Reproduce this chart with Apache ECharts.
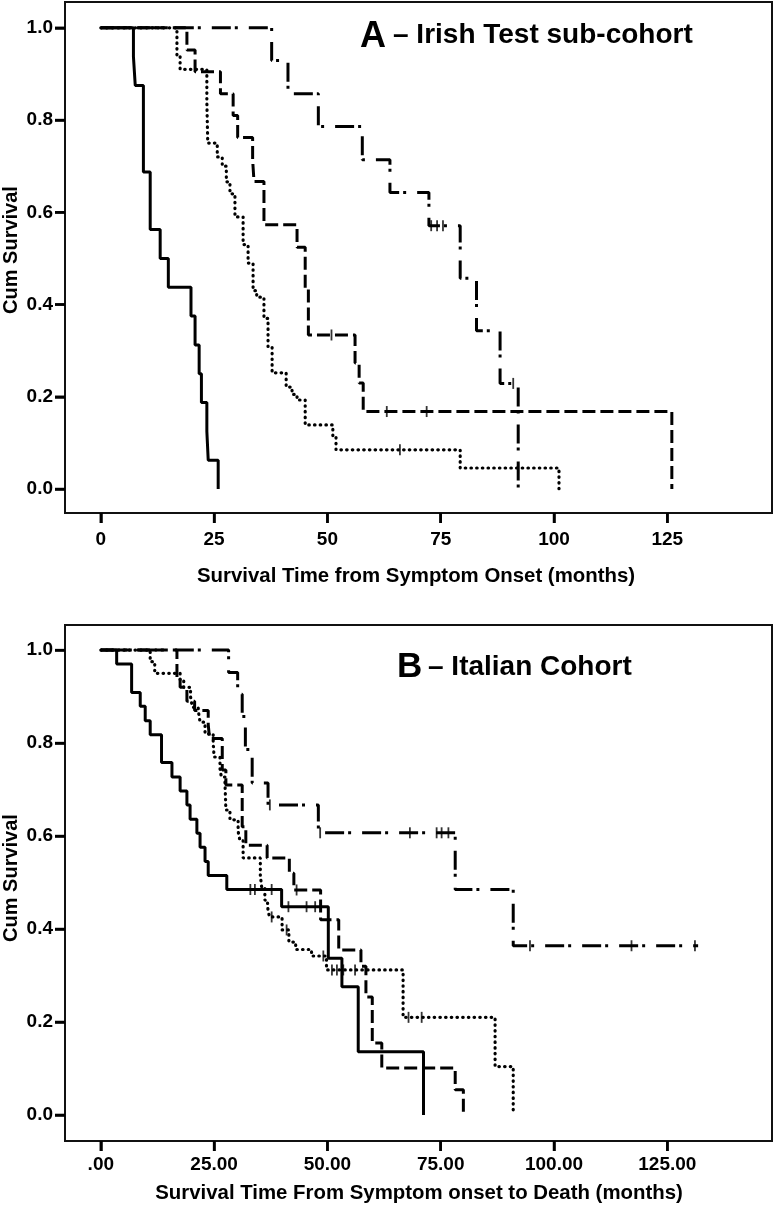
<!DOCTYPE html>
<html><head><meta charset="utf-8">
<script src="https://cdn.jsdelivr.net/npm/echarts@6/dist/echarts.min.js"></script>
<style>html,body{margin:0;padding:0;background:#fff}#c{width:774px;height:1208px}</style>
</head><body><div id="c"></div>
<script>
// ---- tick values / labels ----
const xTickValues = [0, 25, 50, 75, 100, 125];
const xTickLabelsA = ['0', '25', '50', '75', '100', '125'];
const xTickLabelsB = ['.00', '25.00', '50.00', '75.00', '100.00', '125.00'];
const yTickValues = [0, 0.2, 0.4, 0.6, 0.8, 1.0];
const yTickLabels = ['0.0', '0.2', '0.4', '0.6', '0.8', '1.0'];

// ---- Panel A: Irish Test sub-cohort  [time (months), cum survival] ----
const A_solid = [[0,1],[7.2,0.9375],[7.6,0.875],[9.4,0.6875],[10.9,0.5625],[13.1,0.5],[14.9,0.4375],[19.9,0.375],[20.8,0.3125],[21.7,0.25],[22.2,0.1875],[23.4,0.125],[23.7,0.0625],[25.9,0]];
const A_solid_cens = [];
const A_dotted = [[0,1],[16.8,0.94],[17.5,0.91],[23.4,0.84],[23.6,0.75],[25.7,0.72],[26.8,0.70],[27.7,0.666],[28.5,0.64],[29.6,0.59],[31.4,0.53],[32.5,0.49],[33.6,0.43],[34.4,0.416],[36,0.37],[36.9,0.308],[37.8,0.252],[40.9,0.221],[42.2,0.205],[43.3,0.193],[45.1,0.139],[51.2,0.113],[51.9,0.085],[79.3,0.0456],[101.1,0]];
const A_dotted_cens = [[66,0.085],[92.1,0.0456]];
const A_dashed = [[0,1],[19,0.952],[20.8,0.905],[26.4,0.857],[29.2,0.81],[30.2,0.762],[33.5,0.714],[33.8,0.667],[36,0.573],[43.3,0.524],[45.1,0.436],[45.8,0.334],[56.1,0.273],[57,0.23],[57.9,0.168],[126,0]];
const A_dashed_cens = [[50.9,0.334],[63.1,0.168],[71.9,0.168]];
const A_dashdot = [[0,1],[37.7,0.929],[41.3,0.857],[48,0.786],[57.7,0.714],[63.8,0.643],[72.4,0.571],[79.3,0.457],[82.9,0.343],[88.1,0.229],[92.1,0]];
const A_dashdot_cens = [[72.9,0.571],[74.2,0.571],[75.5,0.571],[91,0.229]];

// ---- Panel B: Italian Cohort ----
const B_solid = [[0,1],[3.5,0.97],[6.8,0.909],[8.7,0.879],[9.8,0.848],[10.9,0.818],[13.4,0.758],[15.7,0.727],[17.5,0.697],[19,0.667],[19.7,0.636],[21.2,0.606],[21.9,0.576],[23,0.545],[23.7,0.515],[27.8,0.485],[39.9,0.448],[50.2,0.337],[53.2,0.276],[56.8,0.136],[71.2,0]];
const B_solid_cens = [[33,0.485],[34,0.485],[37.7,0.485],[41.4,0.448],[45.4,0.448],[47.3,0.448]];
const B_dotted = [[0,1],[10.9,0.975],[11.9,0.95],[17.5,0.935],[18.3,0.92],[19.8,0.9],[20.2,0.877],[21.5,0.87],[21.9,0.845],[23,0.82],[24.8,0.8],[25,0.77],[26.3,0.745],[26.6,0.727],[27.4,0.714],[27.6,0.656],[28.5,0.635],[30.3,0.61],[30.7,0.59],[31.4,0.553],[35.2,0.515],[35.5,0.49],[36.2,0.462],[36.8,0.447],[37.2,0.426],[40,0.398],[41.5,0.372],[43,0.356],[46.5,0.342],[49.8,0.312],[66.7,0.21],[87,0.104],[91,0]];
const B_dotted_cens = [[37.7,0.426],[41,0.398],[49.1,0.342],[51,0.312],[52.1,0.312],[53.5,0.312],[56.1,0.312],[67.9,0.21],[70.8,0.21]];
const B_dashed = [[0,1],[16.8,0.94],[17.5,0.92],[19,0.89],[20.7,0.87],[23.7,0.84],[24,0.81],[26.8,0.742],[27.6,0.71],[31.2,0.62],[32,0.58],[36.7,0.553],[41.6,0.52],[42.6,0.484],[48.5,0.42],[52.5,0.355],[57.4,0.32],[58.5,0.254],[59.9,0.155],[62,0.101],[78.2,0.054],[80,0]];
const B_dashed_cens = [[43.2,0.484]];
const B_dashdot = [[0,1],[28.2,0.952],[30.2,0.905],[31.2,0.857],[31.9,0.786],[33.4,0.714],[36.9,0.667],[48,0.607],[78.2,0.485],[91,0.364],[131.8,0.364]];
const B_dashdot_cens = [[37.3,0.667],[48.4,0.607],[68.2,0.607],[74.1,0.607],[75.2,0.607],[76.7,0.607],[94.7,0.364],[117.1,0.364],[131.1,0.364]];

// ---- axis ranges ----
const X_MIN = -7.9, X_MAX = 148.1;
const Y_RANGE_A = [-0.052, 1.056];
const Y_RANGE_B = [-0.056, 1.054];

// ---- styles ----
const TICK_FONT = "'Liberation Sans Narrow', 'Arial Narrow', sans-serif";
const MAIN_FONT = "'Liberation Sans', Arial, sans-serif";
const styles = {
  solid:   {width: 3, type: 'solid', cap: 'butt'},
  dotted:  {width: 3.2, type: [0.5, 5.2], cap: 'round'},
  dashed:  {width: 3, type: [13, 5], cap: 'butt'},
  dashdot: {width: 3, type: [19, 4, 3, 11], cap: 'butt'}
};

function stepSeries(data, idx, st) {
  return {type: 'line', xAxisIndex: idx, yAxisIndex: idx, data: data, step: 'end',
    showSymbol: false, symbol: 'none', silent: true, animation: false,
    lineStyle: {color: '#000', width: st.width, type: st.type, cap: st.cap}};
}
function censSeries(data, idx) {
  return {type: 'scatter', xAxisIndex: idx, yAxisIndex: idx, data: data, symbol: 'rect',
    symbolSize: [1.8, 11], itemStyle: {color: '#000'}, silent: true, animation: false};
}
const axisLineStyle = {show: true, onZero: false, lineStyle: {color: '#111', width: 2}};
function xAxisDef(idx, labels, margin) {
  return {type: 'value', gridIndex: idx, min: X_MIN, max: X_MAX, position: 'bottom',
    axisLine: axisLineStyle, splitLine: {show: false},
    axisTick: {show: true, customValues: xTickValues, length: 10, inside: false, lineStyle: {color: '#000', width: 2.5}},
    axisLabel: {show: true, customValues: xTickValues, margin: margin, color: '#000', fontFamily: TICK_FONT, fontWeight: 'bold', fontSize: 19,
      formatter: function (v) { const i = xTickValues.indexOf(Math.round(v)); return i >= 0 ? labels[i] : ''; }}};
}
function yAxisDef(idx, range) {
  return {type: 'value', gridIndex: idx, min: range[0], max: range[1], position: 'left',
    axisLine: axisLineStyle, splitLine: {show: false},
    axisTick: {show: true, customValues: yTickValues, length: 10, inside: false, lineStyle: {color: '#000', width: 2.5}},
    axisLabel: {show: true, customValues: yTickValues, margin: 12, color: '#000', fontFamily: TICK_FONT, fontWeight: 'bold', fontSize: 19,
      formatter: function (v) { const i = yTickValues.findIndex(t => Math.abs(t - v) < 1e-6); return i >= 0 ? yTickLabels[i] : ''; }}};
}
function txt(text, x, y, size, align, rot) {
  return {type: 'text', x: x, y: y, rotation: rot || 0, silent: true, z: 10,
    style: {text: text, fill: '#000', font: 'bold ' + size + 'px ' + MAIN_FONT,
      align: align, verticalAlign: 'middle', textAlign: align, textVerticalAlign: 'middle'}};
}
const texts = [
  txt('A', 360, 37, 36, 'left'),
  txt('– Irish Test sub-cohort', 393, 35, 28, 'left'),
  txt('B', 397, 667, 35, 'left'),
  txt('– Italian Cohort', 428, 667, 28, 'left'),
  txt('Cum Survival', 11, 250, 20, 'center', Math.PI / 2),
  txt('Cum Survival', 11, 878, 20, 'center', Math.PI / 2),
  txt('Survival Time from Symptom Onset (months)', 416, 576, 20.4, 'center'),
  txt('Survival Time From Symptom onset to Death (months)', 419, 1193, 20.4, 'center')
];

const chart = echarts.init(document.getElementById('c'), null, {renderer: 'canvas'});
chart.setOption({
  animation: false,
  backgroundColor: '#fff',
  grid: [
    {left: 65, top: 2, width: 707, height: 511, show: true, borderColor: '#111', borderWidth: 2, backgroundColor: 'transparent'},
    {left: 65, top: 625, width: 707, height: 516, show: true, borderColor: '#111', borderWidth: 2, backgroundColor: 'transparent'}
  ],
  xAxis: [xAxisDef(0, xTickLabelsA, 17), xAxisDef(1, xTickLabelsB, 14)],
  yAxis: [yAxisDef(0, Y_RANGE_A), yAxisDef(1, Y_RANGE_B)],
  series: [
    stepSeries(A_solid, 0, styles.solid), censSeries(A_solid_cens, 0),
    stepSeries(A_dotted, 0, styles.dotted), censSeries(A_dotted_cens, 0),
    stepSeries(A_dashed, 0, styles.dashed), censSeries(A_dashed_cens, 0),
    stepSeries(A_dashdot, 0, styles.dashdot), censSeries(A_dashdot_cens, 0),
    stepSeries(B_solid, 1, styles.solid), censSeries(B_solid_cens, 1),
    stepSeries(B_dotted, 1, styles.dotted), censSeries(B_dotted_cens, 1),
    stepSeries(B_dashed, 1, styles.dashed), censSeries(B_dashed_cens, 1),
    stepSeries(B_dashdot, 1, styles.dashdot), censSeries(B_dashdot_cens, 1)
  ],
  graphic: texts
});

// extra outside tick marks placed through the chart's own axis scales (drawn on top)
const tickLines = [];
[[0, Y_RANGE_A], [1, Y_RANGE_B]].forEach(function (g) {
  const gi = g[0], yMin = g[1][0];
  xTickValues.forEach(function (v) {
    const p = chart.convertToPixel({gridIndex: gi}, [v, yMin]);
    tickLines.push({type: 'rect', silent: true, z: 100, shape: {x: p[0] - 1.25, y: p[1], width: 2.5, height: 10}, style: {fill: '#000'}});
  });
  yTickValues.forEach(function (v) {
    const p = chart.convertToPixel({gridIndex: gi}, [X_MIN, v]);
    tickLines.push({type: 'rect', silent: true, z: 100, shape: {x: p[0] - 10, y: p[1] - 1.25, width: 10, height: 2.5}, style: {fill: '#000'}});
  });
});
chart.setOption({graphic: texts.concat(tickLines)});
</script></body></html>
